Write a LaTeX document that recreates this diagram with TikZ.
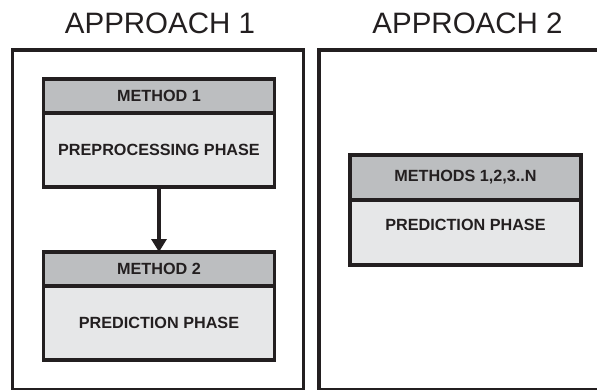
\documentclass[tikz,border=0pt]{standalone}
\usepackage{fontspec}
\setmainfont{Liberation Sans}
\usepackage{tikz}
\usetikzlibrary{arrows.meta,positioning}
\definecolor{inkgrey}{RGB}{35,31,32}
\definecolor{headgrey}{RGB}{188,190,192}
\definecolor{bodygrey}{RGB}{230,231,232}
\tikzstyle{outerbox} = [draw=inkgrey,line width=3.2pt]
\tikzstyle{phase} = [draw=inkgrey,line width=3.2pt,rectangle,outer sep=0pt,minimum width=231pt,text=inkgrey,font=\fontsize{16.2}{18}\selectfont\bfseries]
\tikzstyle{methodhead} = [phase,fill=headgrey]
\tikzstyle{methodbody} = [phase,fill=bodygrey]
\tikzstyle{es} = [draw=inkgrey,line width=3.2pt,-{Triangle[length=13pt,width=15pt]}]

\begin{document}
\begin{tikzpicture}[yscale=-1,x=1pt,y=1pt]
			\useasboundingbox (0,0) rectangle (597,389);
			\draw[outerbox] (12.5,50) rectangle (303.5,390);
			\draw[outerbox] (319,50) rectangle (610,390);
			\node[text=inkgrey,font=\fontsize{29.5}{30}\selectfont] (title1) at (160,23) {APPROACH 1};
			\node[text=inkgrey,font=\fontsize{29.5}{30}\selectfont] (title2) at (467.5,23) {APPROACH 2};
			% approach 1
			\node[methodhead,minimum height=34pt] (head1) at (159,96) {METHOD 1};
			\node[methodbody,minimum height=74pt,below=0pt of head1] (pre) {PREPROCESSING PHASE};
			\node[methodhead,minimum height=34pt] (head2) at (159,269) {METHOD 2};
			\node[methodbody,minimum height=74pt,below=0pt of head2] (pred1) {PREDICTION PHASE};
			\draw[es] (pre.south) -- (head2.north);
			% approach 2
			\node[methodhead,minimum height=45pt] (headall) at (465.5,177.5) {METHODS 1,2,3..N};
			\node[methodbody,minimum height=65pt,text depth=15pt,below=0pt of headall] (pred2) {PREDICTION PHASE};
		\end{tikzpicture}
\end{document}
